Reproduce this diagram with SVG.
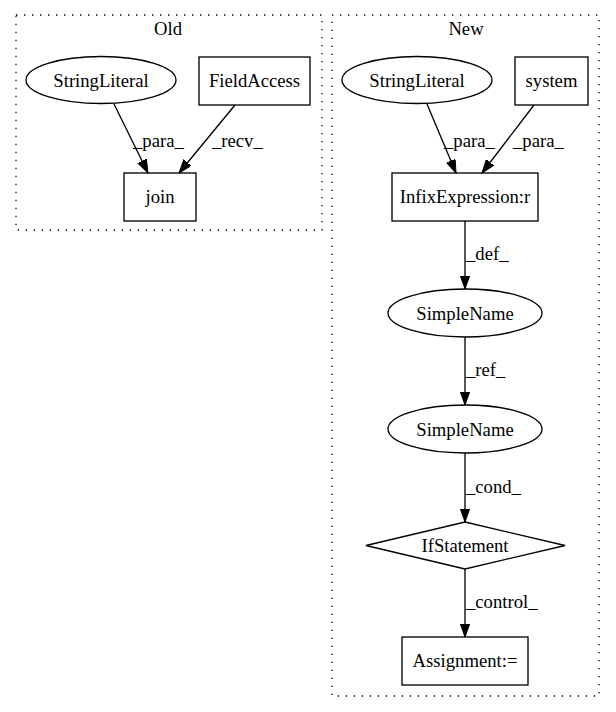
<svg xmlns="http://www.w3.org/2000/svg" width="616" height="712" viewBox="0 0 616 712">
<style>
.cl{fill:none;stroke:#000;stroke-width:1.33;stroke-dasharray:1.33,6.67}
.n{fill:none;stroke:#000;stroke-width:1.33}
.e{fill:none;stroke:#000;stroke-width:1.33}
text{font-family:"Liberation Serif","Times New Roman",serif;font-size:18.67px;fill:#000}
.m{text-anchor:middle}
</style>
<defs>
<marker id="ah" markerUnits="userSpaceOnUse" markerWidth="14" markerHeight="10" refX="13.3" refY="4.7" orient="auto">
<path d="M0,0 L13.3,4.7 L0,9.4 Z" fill="#000" stroke="#000" stroke-width="1"/>
</marker>
</defs>
<rect width="616" height="712" fill="#fff"/>
<g id="cluster_old">
<rect class="cl" x="16" y="15" width="306" height="215"/>
<text class="m" x="168" y="35">Old</text>
</g>
<g id="cluster_new">
<rect class="cl" x="332" y="15" width="267" height="681"/>
<text class="m" x="466" y="35">New</text>
</g>
<g id="edges">
<line class="e" x1="114" y1="104" x2="148" y2="173" marker-end="url(#ah)"/>
<text x="133" y="147">_para_</text>
<line class="e" x1="235" y1="105" x2="179" y2="173" marker-end="url(#ah)"/>
<text x="212" y="147">_recv_</text>
<line class="e" x1="427" y1="104" x2="456" y2="173" marker-end="url(#ah)"/>
<text x="444" y="147">_para_</text>
<line class="e" x1="534" y1="105" x2="482" y2="173" marker-end="url(#ah)"/>
<text x="513" y="147">_para_</text>
<line class="e" x1="465" y1="221" x2="465" y2="289" marker-end="url(#ah)"/>
<text x="466" y="260">_def_</text>
<line class="e" x1="465" y1="337" x2="465" y2="405" marker-end="url(#ah)"/>
<text x="466" y="376">_ref_</text>
<line class="e" x1="465" y1="453" x2="465" y2="522" marker-end="url(#ah)"/>
<text x="466" y="493">_cond_</text>
<line class="e" x1="465" y1="569" x2="465" y2="637" marker-end="url(#ah)"/>
<text x="466" y="608">_control_</text>
</g>
<g id="old_StringLiteral">
<ellipse class="n" cx="101" cy="80" rx="75" ry="23.5"/>
<text class="m" x="101" y="87">StringLiteral</text>
</g>
<g id="old_FieldAccess">
<rect class="n" x="199" y="57" width="111" height="48"/>
<text class="m" x="254.5" y="87">FieldAccess</text>
</g>
<g id="old_join">
<rect class="n" x="124" y="173" width="72" height="48"/>
<text class="m" x="160" y="203">join</text>
</g>
<g id="new_StringLiteral">
<ellipse class="n" cx="417" cy="80" rx="75" ry="23.5"/>
<text class="m" x="417" y="87">StringLiteral</text>
</g>
<g id="new_system">
<rect class="n" x="515" y="57" width="73" height="48"/>
<text class="m" x="551.5" y="87">system</text>
</g>
<g id="new_InfixExpression">
<rect class="n" x="392" y="173" width="146" height="48"/>
<text class="m" x="465" y="203">InfixExpression:r</text>
</g>
<g id="new_SimpleName1">
<ellipse class="n" cx="465" cy="313" rx="77" ry="24"/>
<text class="m" x="465" y="320">SimpleName</text>
</g>
<g id="new_SimpleName2">
<ellipse class="n" cx="465" cy="429" rx="77" ry="24"/>
<text class="m" x="465" y="436">SimpleName</text>
</g>
<g id="new_IfStatement">
<polygon class="n" points="465,522 565,545.5 465,569 366,545.5"/>
<text class="m" x="465" y="552">IfStatement</text>
</g>
<g id="new_Assignment">
<rect class="n" x="402" y="637" width="126" height="48"/>
<text class="m" x="465" y="667">Assignment:=</text>
</g>
</svg>
